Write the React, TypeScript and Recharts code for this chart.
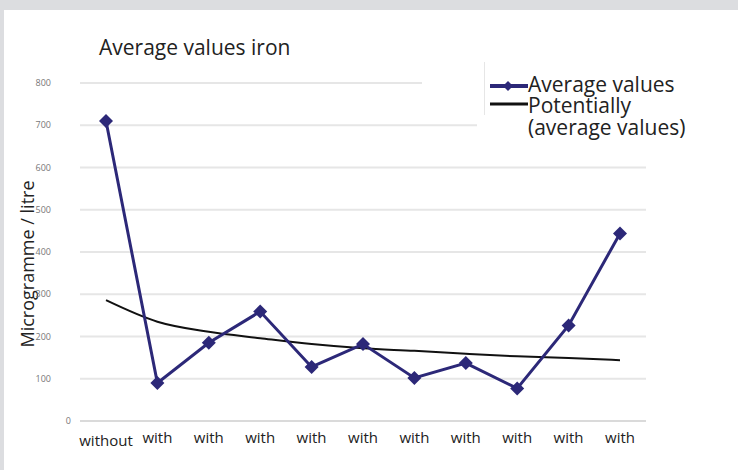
import React from "react"
import { LineChart, Line, XAxis, YAxis, CartesianGrid, Legend } from "recharts"

const categories = ["without", "with", "with", "with", "with", "with", "with", "with", "with", "with", "with"]
const averageValues = [710, 90, 185, 259, 128, 182, 102, 137, 77, 226, 444]
const trendValues = [286, 235, 211, 196, 182, 172, 166, 159, 153, 149, 144]
const yTicks = [0, 100, 200, 300, 400, 500, 600, 700, 800]

const NAVY = "#2c2878"
const FONT = "'Open Sans', sans-serif"

const data = categories.map((name, i) => ({
  name,
  avg: averageValues[i],
  trend: trendValues[i],
}))

const Diamond = (props: any) => {
  const { cx, cy } = props
  if (cx == null || cy == null) return null
  const r = 7
  return (
    <polygon
      points={`${cx},${cy - r} ${cx + r},${cy} ${cx},${cy + r} ${cx - r},${cy}`}
      fill={NAVY}
    />
  )
}

// tick labels sit well left of the grid, "0" a bit further right
const renderYTick = (props: any) => {
  const { y, payload } = props
  const zero = payload.value === 0
  return (
    <text x={zero ? 71 : 51} y={y} dy={3} textAnchor="end" fontSize={9} fill="#777" fontFamily={FONT}>
      {payload.value}
    </text>
  )
}

const renderXTick = (props: any) => {
  const { x, y, payload, index } = props
  return (
    <text x={x} y={y + (index === 0 ? 23 : 20)} textAnchor="middle" fontSize={15} fill="#222" fontFamily={FONT}>
      {payload.value}
    </text>
  )
}

const LegendBox = () => (
  <div style={{ position: "relative", width: 316, height: 90, fontFamily: FONT, color: "#222" }}>
    <div style={{ position: "absolute", left: 0, top: 0, width: 316, height: 53, background: "#fff" }} />
    <div style={{ position: "absolute", left: 62, top: 0, width: 1, height: 53, background: "#e6e6e6" }} />
    <div style={{ position: "absolute", left: 55, top: 53, width: 261, height: 32, background: "#fff" }} />
    <svg style={{ position: "absolute", left: 66, top: 14 }} width={40} height={40}>
      <line x1={2} y1={10} x2={40} y2={10} stroke={NAVY} strokeWidth={4} />
      <polygon points="20,5 25,10 20,15 15,10" fill={NAVY} />
      <line x1={2} y1={28} x2={40} y2={28} stroke="#111" strokeWidth={3} />
    </svg>
    <div style={{ position: "absolute", left: 106, top: 12, fontSize: 21, lineHeight: "21px", whiteSpace: "nowrap" }}>
      Average values
    </div>
    <div style={{ position: "absolute", left: 106, top: 32, fontSize: 21, lineHeight: "22px", whiteSpace: "nowrap" }}>
      Potentially
      <br />
      (average values)
    </div>
  </div>
)

export default function App() {
  return (
    <div style={{ position: "absolute", left: 0, top: 0, width: 738, height: 470, background: "#dcdde0", overflow: "hidden" }}>
      <div style={{ position: "absolute", left: 4, top: 10, width: 734, height: 460, background: "#fff" }} />
      <div style={{ position: "absolute", left: 99, top: 33, fontFamily: FONT, fontSize: 21, color: "#222", whiteSpace: "nowrap" }}>
        Average values iron
      </div>
      <div style={{ position: "absolute", left: 0, top: 0 }}>
        <LineChart width={738} height={470} data={data} margin={{ top: 83, right: 92, bottom: 0, left: 0 }}>
          <CartesianGrid vertical={false} stroke="#e6e6e6" strokeWidth={2} />
          <XAxis
            dataKey="name"
            height={49}
            tickLine={false}
            tickSize={0}
            axisLine={{ stroke: "#dadada", strokeWidth: 2 }}
            padding={{ left: 26, right: 26 }}
            tick={renderXTick}
            interval={0}
          />
          <YAxis
            width={80}
            domain={[0, 800]}
            ticks={yTicks}
            tickLine={false}
            axisLine={false}
            tickSize={0}
            tick={renderYTick}
            label={{
              content: () => (
                <text x={27} y={264} transform="rotate(-90 27 264)" textAnchor="middle" dominantBaseline="central" fontSize={18} fill="#222" fontFamily={FONT}>
                  Microgramme / litre
                </text>
              ),
            }}
          />
          <Legend
            layout="horizontal"
            verticalAlign="middle"
            align="center"
            content={<LegendBox />}
            wrapperStyle={{ left: 422, top: 62, width: 316 }}
          />
          <Line
            type="monotone"
            dataKey="trend"
            stroke="#111"
            strokeWidth={2}
            dot={false}
            activeDot={false}
            isAnimationActive={false}
          />
          <Line
            type="linear"
            dataKey="avg"
            stroke={NAVY}
            strokeWidth={3}
            dot={<Diamond />}
            activeDot={false}
            isAnimationActive={false}
          />
        </LineChart>
      </div>
    </div>
  )
}
